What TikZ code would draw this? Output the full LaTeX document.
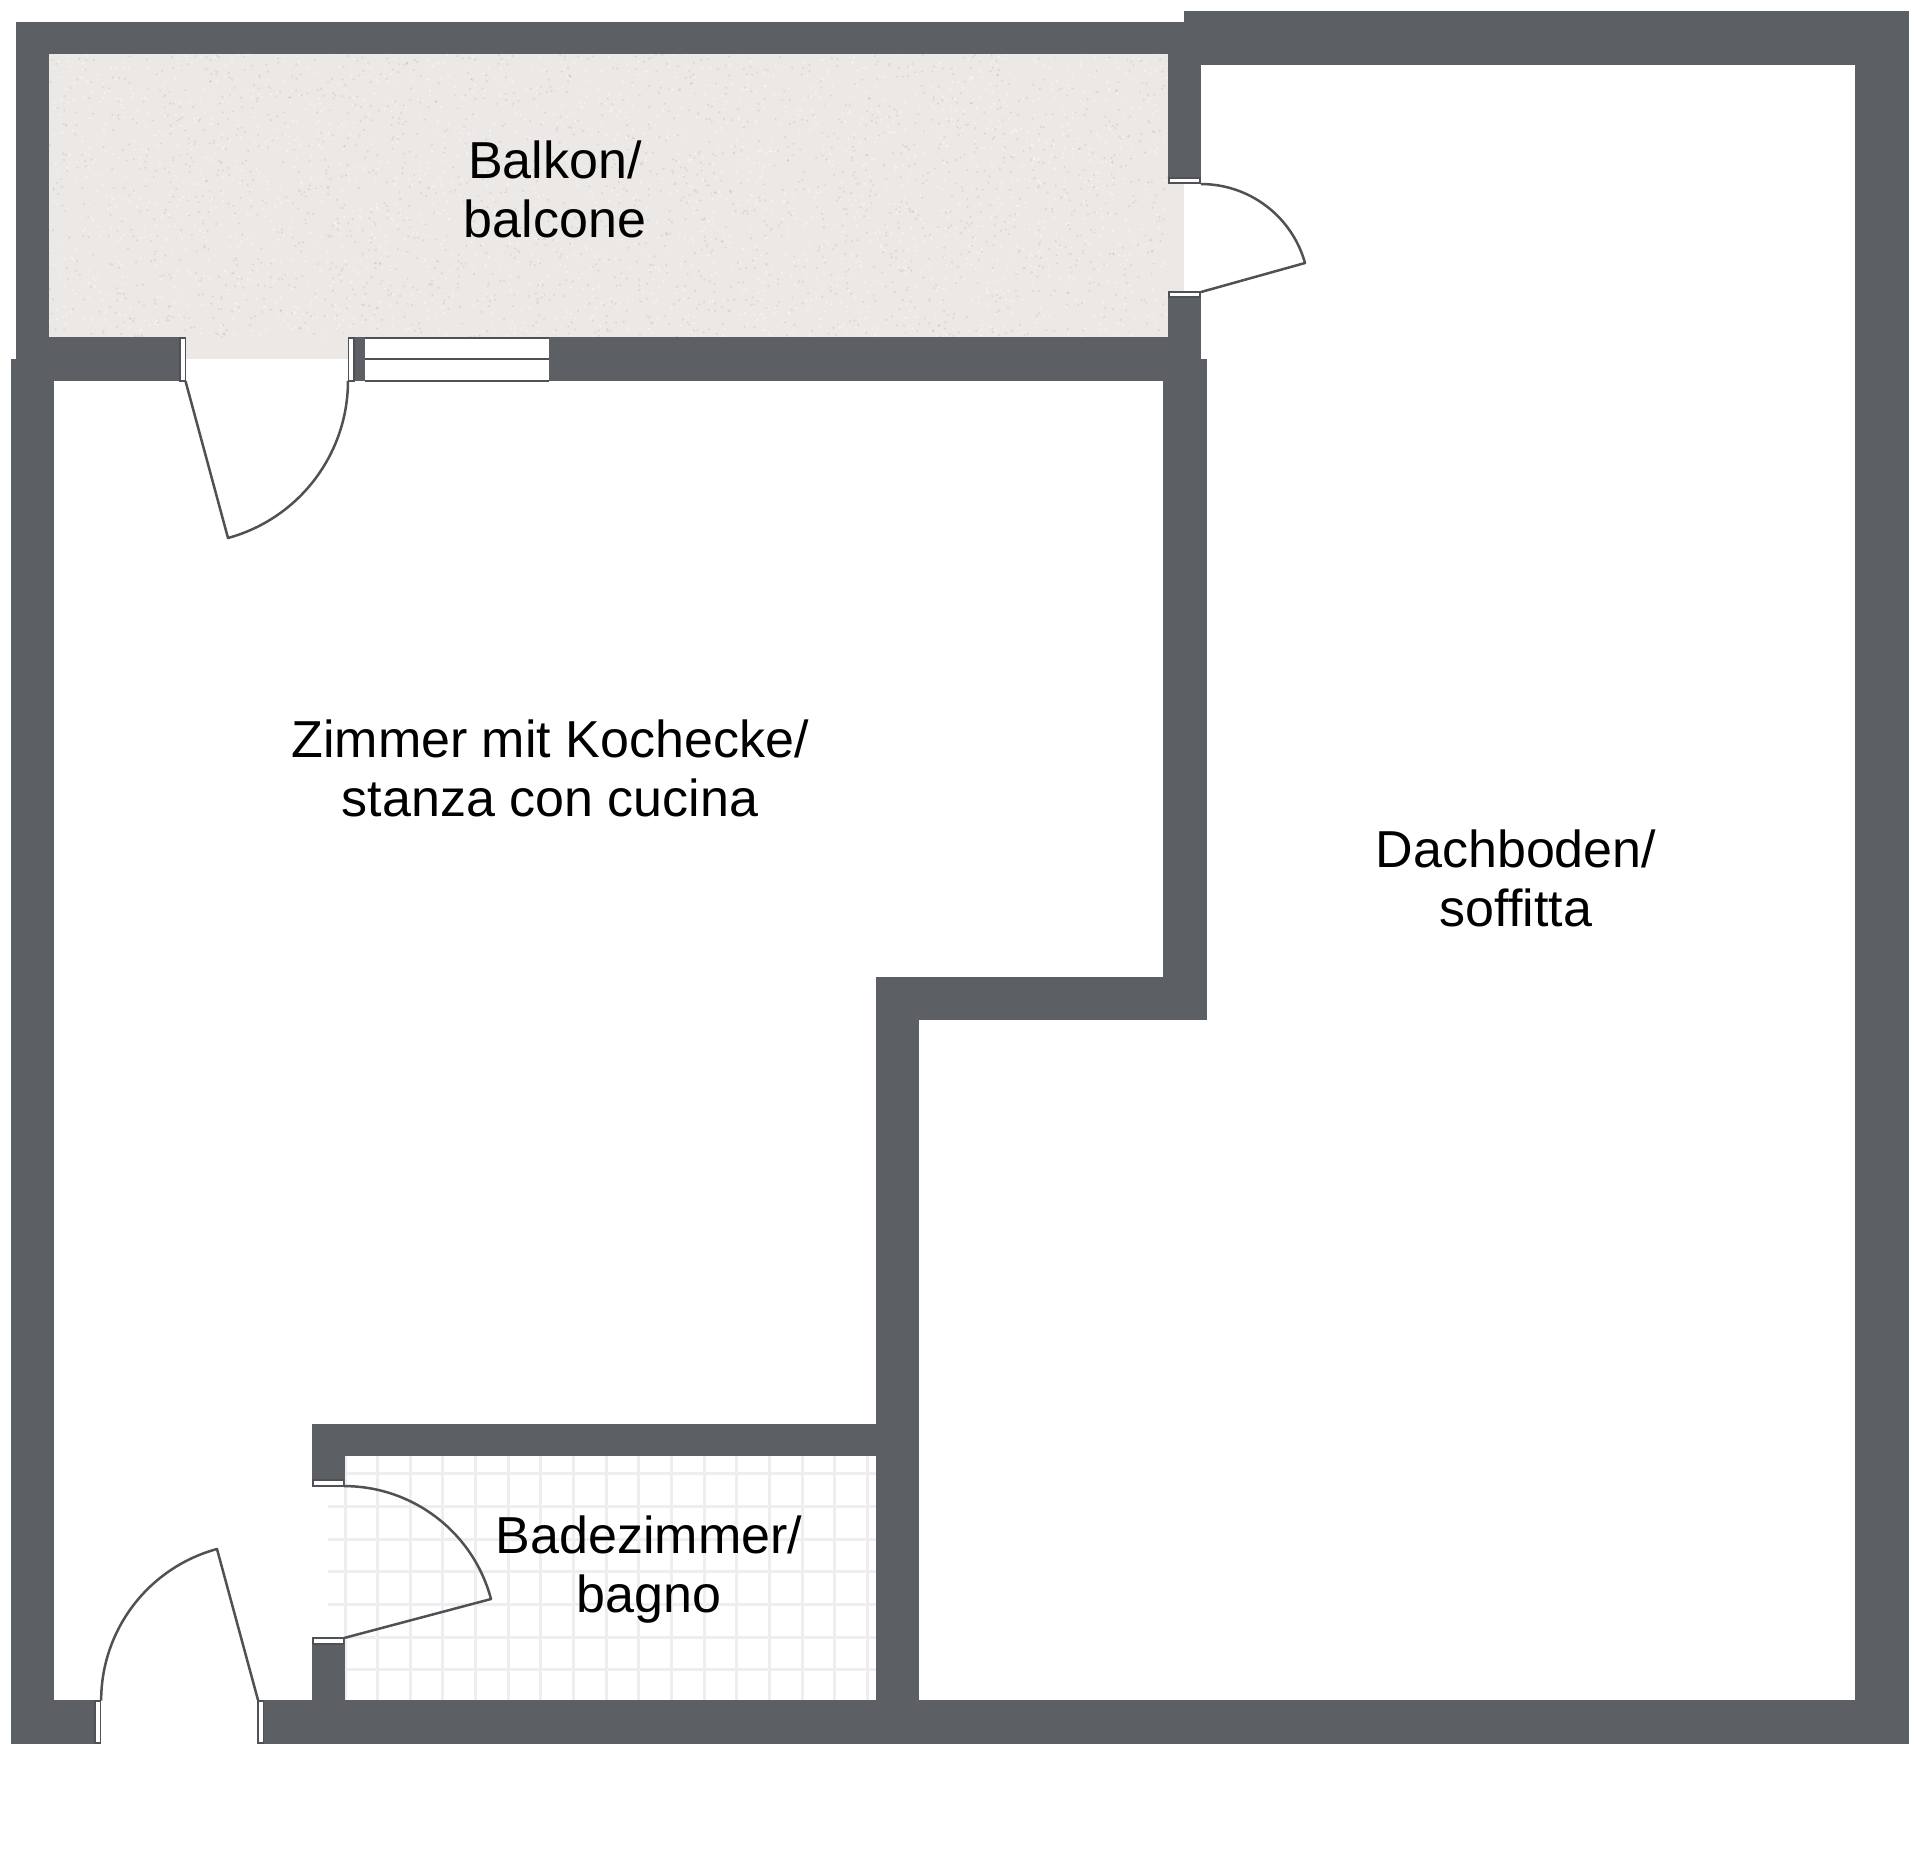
\documentclass[tikz,border=0pt]{standalone}
\usepackage{fontspec}
\setmainfont{Liberation Sans}
\definecolor{wallc}{HTML}{5C5F63}
\definecolor{linec}{HTML}{505155}
\definecolor{floorc}{HTML}{ECE8E6}
\definecolor{gridc}{HTML}{EEEEF0}
\tikzset{
  wall/.style={fill=wallc,draw=none},
  floorb/.style={fill=floorc,draw=none},
  jamb/.style={fill=white,draw=linec,line width=1.6pt},
  doorline/.style={draw=linec,line width=2.5pt,line join=round},
  winline/.style={draw=linec,line width=1.8pt},
  tile/.style={draw=gridc,line width=3pt},
  roomlabel/.style={align=center,font=\fontsize{52}{59}\selectfont,text=black,inner sep=0pt},
}
\begin{document}
\begin{tikzpicture}[x=1pt,y=-1pt]
\useasboundingbox[fill=white] (0,0) rectangle (1920,1869);
% balcony floor
\fill[floorb] (49,54) rectangle (1168,337);
\fill[floorb] (185,337) rectangle (348,359);
\fill[floorb] (1168,183) rectangle (1184,292);
\pgfmathsetseed{4711}
\foreach \i in {1,...,4000}{
  \pgfmathsetmacro{\px}{49+1119*rnd}
  \pgfmathsetmacro{\py}{54+283*rnd}
  \pgfmathsetmacro{\pk}{rnd>0.5?1:0}
  \ifdim\pk pt>0.5pt
    \fill[white,opacity=.45] (\px,\py) circle[radius=1.2];
  \else
    \fill[black!45,opacity=.18] (\px,\py) circle[radius=1.2];
  \fi
}
% bathroom tile grid
\foreach \y in {1473,1637,1669}{\draw[tile] (345,\y) -- (876,\y);}
\foreach \y in {1506,1539,1571,1604}{\draw[tile] (328,\y) -- (876,\y);}
\foreach \k in {0,...,16}{
  \pgfmathsetmacro{\gx}{345+32.65*\k}
  \draw[tile] (\gx,1456) -- (\gx,1700);
}
% walls
\fill[wall] (16,22) rectangle (1184,54);
\fill[wall] (16,22) rectangle (49,381);
\fill[wall] (11,359) rectangle (54,1744);
\fill[wall] (49,337) rectangle (186,381);
\fill[wall] (354,337) rectangle (365,381);
\fill[wall] (549,337) rectangle (1201,381);
\fill[wall] (1168,22) rectangle (1201,183);
\fill[wall] (1168,292) rectangle (1201,381);
\fill[wall] (1184,11) rectangle (1909,65);
\fill[wall] (1855,11) rectangle (1909,1744);
\fill[wall] (1163,359) rectangle (1207,1020);
\fill[wall] (876,977) rectangle (1207,1020);
\fill[wall] (876,977) rectangle (919,1744);
\fill[wall] (11,1700) rectangle (101,1744);
\fill[wall] (258,1700) rectangle (1909,1744);
\fill[wall] (312,1424) rectangle (876,1456);
\fill[wall] (312,1424) rectangle (345,1486);
\fill[wall] (312,1638) rectangle (345,1700);
% door jambs
\draw[jamb] (180,338) rectangle (185.5,381);
\draw[jamb] (348.5,338) rectangle (354,381);
\draw[jamb] (1169,178) rectangle (1200,183);
\draw[jamb] (1169,292) rectangle (1200,297);
\draw[jamb] (95,1701) rectangle (100.5,1743);
\draw[jamb] (258,1701) rectangle (263.5,1743);
\draw[jamb] (313,1480) rectangle (343.5,1486);
\draw[jamb] (313,1638) rectangle (343.5,1644);
% window
\fill[white] (365,338) rectangle (549,381);
\draw[winline] (365,338) -- (549,338);
\draw[winline] (365,359) -- (549,359);
\draw[winline] (365,381) -- (549,381);
% doors: leaf then swing arc about the hinge (angles in image sense, y down)
\draw[doorline] (185.5,381) -- (228,538) arc[start angle=74.7,end angle=0,radius=163];
\draw[doorline] (1201,292) -- (1305,263) arc[start angle=-15.6,end angle=-90,radius=108];
\draw[doorline] (258,1700) -- (217,1549) arc[start angle=-105.2,end angle=-180,radius=157];
\draw[doorline] (344,1638) -- (491,1599) arc[start angle=-14.9,end angle=-90,radius=152];
% labels
\node[roomlabel] (balcony) at (555,189) {Balkon/\\balcone};
\node[roomlabel] (room) at (550,768) {Zimmer mit Kochecke/\\stanza con cucina};
\node[roomlabel] (attic) at (1516,878.5) {Dachboden/\\soffitta};
\node[roomlabel] (bath) at (649,1570) {Badezimmer/\\bagno};
\end{tikzpicture}
\end{document}
